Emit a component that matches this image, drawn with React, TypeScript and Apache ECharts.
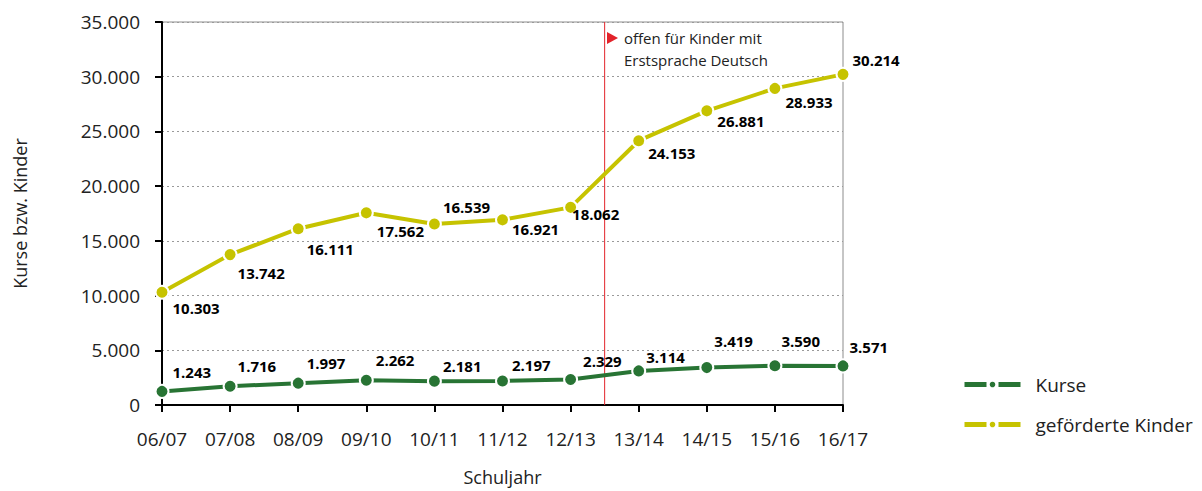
import React, { useEffect, useRef } from "react";
import * as echarts from "echarts";

const categories = ["06/07", "07/08", "08/09", "09/10", "10/11", "11/12", "12/13", "13/14", "14/15", "15/16", "16/17"];
const kurse = [1243, 1716, 1997, 2262, 2181, 2197, 2329, 3114, 3419, 3590, 3571];
const kinder = [10303, 13742, 16111, 17562, 16539, 16921, 18062, 24153, 26881, 28933, 30214];
const markerPosition = 6.5; // between 12/13 and 13/14
const yMax = 35000;
const yInterval = 5000;

const kurseLabelOffsets: [number, number][] = [
  [3, -19], [0, -20], [1, -20], [2, -20], [1, -15], [2, -16], [5, -19], [0, -14], [0, -27], [-1, -25], [-1, -19],
];
const kinderLabelOffsets: [number, number][] = [
  [3, 16], [0, 18], [1, 20], [3, 18], [1, -17], [2, 9], [-6, 7], [2, 12], [3, 10], [3, 14], [2, -14],
];

const fmt = (v: number) => {
  const s = String(Math.round(v));
  return s.replace(/\B(?=(\d{3})+(?!\d))/g, ".");
};

const FONT = "'Open Sans', 'Noto Sans', sans-serif";
const GREEN = "#287434";
const YELLOW = "#c6c300";

export default function App() {
  const ref = useRef<HTMLDivElement>(null);
  useEffect(() => {
    if (!ref.current) return;
    const chart = echarts.init(ref.current, undefined, { renderer: "svg" });
    const mkData = (vals: number[], offs: [number, number][]) =>
      vals.map((v, i) => ({
        value: v,
        label: { offset: offs[i] },
      }));
    const labelBase = {
      show: true,
      position: "right" as const,
      distance: 0,
      fontFamily: FONT,
      fontWeight: "bold" as const,
      fontSize: 15,
      color: "#000",
      formatter: (p: any) => fmt(p.value),
    };
    chart.setOption({
      animation: false,
      textStyle: { fontFamily: FONT },
      grid: {
        left: 162,
        right: 359,
        top: 22,
        bottom: 86,
        show: true,
        borderColor: "#8c8c8c",
        borderWidth: 1,
      },
      legend: {
        orient: "vertical",
        left: 957,
        top: 370,
        itemWidth: 56,
        itemHeight: 7,
        itemGap: 21,
        textStyle: { fontFamily: FONT, fontSize: 19, color: "#222", padding: [0, 0, 0, 10] },
        lineStyle: { type: [22, 12], width: 5 },
        itemStyle: { borderWidth: 0 },
        data: ["Kurse", "geförderte Kinder"],
      },
      xAxis: [
        {
          type: "category",
          data: categories,
          boundaryGap: false,
          name: "Schuljahr",
          nameLocation: "middle",
          nameGap: 63,
          nameTextStyle: { fontFamily: FONT, fontSize: 18, color: "#222" },
          axisLine: { lineStyle: { color: "#000", width: 2 } },
          axisTick: { show: true, length: 7, lineStyle: { color: "#000", width: 2 } },
          axisLabel: { fontFamily: FONT, fontSize: 19, color: "#222", margin: 24 },
          splitLine: { show: false },
        },
        {
          type: "value",
          min: 0,
          max: categories.length - 1,
          show: false,
        },
      ],
      yAxis: {
        type: "value",
        min: 0,
        max: yMax,
        interval: yInterval,
        name: "Kurse bzw. Kinder",
        nameLocation: "middle",
        nameGap: 133,
        nameTextStyle: { fontFamily: FONT, fontSize: 18, color: "#222" },
        axisLine: { show: true, lineStyle: { color: "#000", width: 2 } },
        axisTick: { show: true, length: 7, lineStyle: { color: "#000", width: 2 } },
        axisLabel: { fontFamily: FONT, fontSize: 19, color: "#222", margin: 22, formatter: (v: number) => fmt(v) },
        splitLine: { show: true, lineStyle: { color: "#9a9a9a", type: [2, 3], width: 1 } },
      },
      series: [
        {
          name: "marker",
          type: "line",
          xAxisIndex: 1,
          data: [[markerPosition, 0], [markerPosition, yMax]],
          symbol: "none",
          lineStyle: { color: "#e2232a", width: 1 },
          silent: true,
          z: 1,
        },
        {
          name: "Kurse",
          type: "line",
          data: mkData(kurse, kurseLabelOffsets),
          symbol: "circle",
          symbolSize: 13,
          showAllSymbol: true,
          color: GREEN,
          lineStyle: { color: GREEN, width: 4 },
          itemStyle: { color: GREEN, borderColor: "#fff", borderWidth: 2 },
          label: labelBase,
          z: 3,
        },
        {
          name: "geförderte Kinder",
          type: "line",
          data: mkData(kinder, kinderLabelOffsets),
          symbol: "circle",
          symbolSize: 13,
          showAllSymbol: true,
          color: YELLOW,
          lineStyle: { color: YELLOW, width: 4 },
          itemStyle: { color: YELLOW, borderColor: "#fff", borderWidth: 2 },
          label: labelBase,
          z: 3,
        },
      ],
      graphic: [
        {
          type: "polygon",
          shape: { points: [[607, 32], [618, 38], [607, 44]] },
          style: { fill: "#e2232a" },
        },
        {
          type: "text",
          left: 624,
          top: 27,
          style: {
            text: "offen für Kinder mit\nErstsprache Deutsch",
            fontFamily: FONT,
            fontSize: 15,
            lineHeight: 22,
            fill: "#222",
          },
        },
      ],
    });
    return () => chart.dispose();
  }, []);
  return <div ref={ref} style={{ width: 1202, height: 491, position: "absolute", left: 0, top: 0 }} />;
}
